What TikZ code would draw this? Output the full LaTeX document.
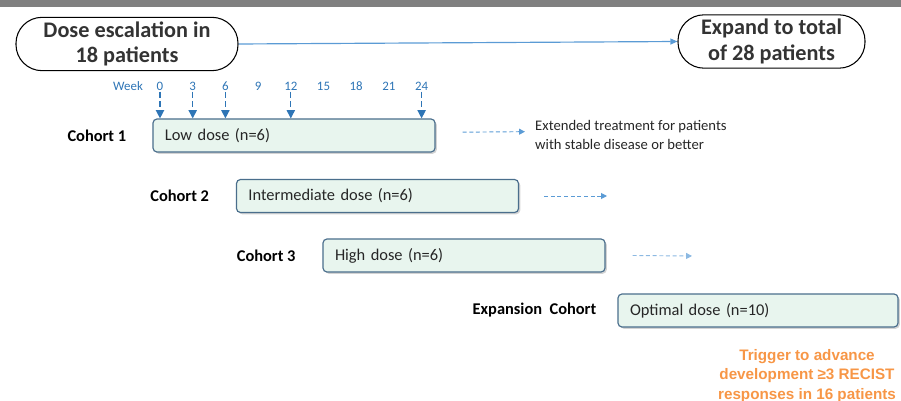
\documentclass[tikz,border=0pt]{standalone}
\usepackage{fontspec}
\setmainfont{Carlito}
\newfontfamily\arialfont{Liberation Sans}
\usetikzlibrary{positioning,shadows,arrows.meta}

\definecolor{weekblue}{HTML}{2E75B6}
\definecolor{lineblue}{HTML}{5B9BD5}
\definecolor{boxfill}{HTML}{E8F5EE}
\definecolor{boxedge}{HTML}{4A6E8C}
\definecolor{trigger}{HTML}{F79646}

\tikzset{
    terminal/.style={draw, line width=0.9pt, rounded corners=0.78cm, align=center,
        minimum height=1.6cm, inner sep=0pt, font=\bfseries\fontsize{19}{22}\selectfont,
        text=black!80},
    dosebox/.style={draw=boxedge, line width=1pt, fill=boxfill, rounded corners=0.12cm,
        minimum height=0.99cm, text width=7.74cm, inner xsep=0.36cm, align=left,
        font=\fontsize{14}{16}\selectfont, text=black!85,
        drop shadow={shadow xshift=1.5pt, shadow yshift=-1.5pt, opacity=0.35}},
    cohort/.style={font=\bfseries\fontsize{14}{16}\selectfont, inner sep=0pt},
    weeklabel/.style={text=weekblue, font=\fontsize{11}{13}\selectfont, inner sep=1pt},
    weekarrow/.style={weekblue, line width=1.1pt, dash pattern=on 0.18cm off 0.1cm,
        -{Triangle[length=7pt,width=7pt]}},
    extarrow/.style={lineblue, line width=0.8pt, dash pattern=on 0.12cm off 0.08cm,
        -{Triangle[length=5pt,width=5pt]}}
}

\begin{document}
\begin{tikzpicture}[x=0.03cm, y=-0.03cm]

    \useasboundingbox (0, 0) rectangle (901, 401);

    % Top bar
    \fill[black!50] (0, 0) rectangle (901, 7);

    % Start and end of the study
    \node[terminal, minimum width=6.66cm] (dose) at (127, 44) {Dose escalation in\\18 patients};
    \node[terminal, minimum width=5.61cm] (expand) at (771.5, 41.5) {Expand to total\\of 28 patients};
    \draw[lineblue, line width=1pt, -{Triangle[length=6pt,width=5pt]}] (dose.east) -- (expand.west);

    % The dose boxes
    \node[dosebox] (low) at (294, 135.5) {Low dose (n=6)};
    \node[dosebox] (mid) at (377.5, 196) {Intermediate dose (n=6)};
    \node[dosebox] (high) at (464, 255.5) {High dose (n=6)};
    \node[dosebox, text width=7.68cm] (optimal) at (758, 310.5) {Optimal dose (n=10)};

    \node[cohort, left=0.78cm of low] (c1) {Cohort 1};
    \node[cohort, left=0.8cm of mid] (c2) {Cohort 2};
    \node[cohort, left=0.8cm of high] (c3) {Cohort 3};
    \node[cohort, left=0.63cm of optimal] (c4) {Expansion\ \ Cohort};

    % Make the week numbers
    \node[weeklabel] (week) at (128, 86) {Week};
    \foreach \w in {0,3,...,24}{
        \node[weeklabel] (w\w) at (160 + 10.9*\w, 86) {\w};
    }

    % Make the assessment arrows
    \foreach \w in {0,3,6,12,24}{
        \draw[weekarrow] (w\w.south) -- (w\w.south |- low.north);
    }

    % Extended treatment
    \node[anchor=west, align=left, inner sep=0pt, text=black!85,
        font=\fontsize{12.5}{15.5}\selectfont] (ext) at (535, 135) {Extended treatment for patients\\with stable disease or better};
    \coordinate (midend) at (607, 196);
    \coordinate (highend) at (692, 256);
    \draw[extarrow] ([xshift=0.81cm, yshift=0.1cm]low.east) -- ([xshift=-0.3cm, yshift=0.1cm]ext.west);
    \draw[extarrow] ([xshift=0.75cm]mid.east) -- (midend);
    \draw[extarrow, lineblue!70] ([xshift=0.81cm]high.east) -- (highend);

    % Trigger
    \node[align=center, text=trigger, inner sep=0pt,
        font=\arialfont\bfseries\fontsize{13}{16.8}\selectfont] (trig) at (807, 376)
        {Trigger to advance\\development ≥3 RECIST\\responses in 16 patients};

\end{tikzpicture}
\end{document}
